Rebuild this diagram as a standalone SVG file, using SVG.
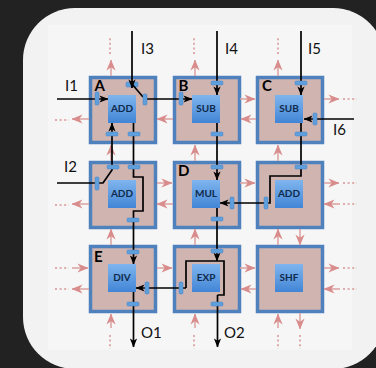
<svg xmlns="http://www.w3.org/2000/svg" width="376" height="368" viewBox="0 0 376 368">
<style>
.cell{fill:#cfb4b0;stroke:#4f81bd;stroke-width:3.5}
.fu{fill:url(#fu)}
.fut{font:bold 10px Lato,"Liberation Sans",sans-serif;fill:#0f2a4a;text-anchor:middle}
.id{font:bold 15px Lato,"Liberation Sans",sans-serif;fill:#000}
.lb{font:15px Lato,"Liberation Sans",sans-serif;fill:#111}
.bar{fill:#5f9fdc;stroke:#4a86c8;stroke-width:.5}
.w{fill:none;stroke:#000;stroke-width:1.7;stroke-linejoin:miter}
.wa{marker-end:url(#wh)}
.r{fill:none;stroke:#dda0a0;stroke-width:1.5;marker-end:url(#rh)}
.d{fill:none;stroke:#e0abab;stroke-width:2;stroke-dasharray:2 2.6}
</style>
<defs>
<linearGradient id="fu" x1="0" y1="0" x2="0" y2="1"><stop offset="0" stop-color="#7fb5ee"/><stop offset="1" stop-color="#4285d6"/></linearGradient>
<marker id="wh" viewBox="0 0 10 8" refX="9.5" refY="4" markerUnits="userSpaceOnUse" markerWidth="9" markerHeight="8" orient="auto"><path d="M0 0L10 4L0 8L2.5 4z" fill="#000"/></marker>
<marker id="rh" viewBox="0 0 12 10" refX="11.5" refY="5" markerUnits="userSpaceOnUse" markerWidth="11" markerHeight="10" orient="auto"><path d="M0 0L12 5L0 10L3.5 5z" fill="#d98c8c"/></marker>
</defs>
<rect width="376" height="368" fill="#222"/>
<rect x="23" y="8" width="362" height="361" rx="52" fill="#f2f2f2"/>
<rect x="48" y="25" width="304" height="325" fill="#f6f6f6"/>

<g id="node-a"><rect class="cell" x="90.5" y="77.5" width="65" height="65"/><rect class="fu" x="108" y="95" width="28" height="28"/><text class="fut" x="122" y="112">ADD</text><text class="id" x="94.5" y="91">A</text></g>
<g id="node-b"><rect class="cell" x="174.5" y="77.5" width="65" height="65"/><rect class="fu" x="192" y="95" width="28" height="28"/><text class="fut" x="206" y="112">SUB</text><text class="id" x="178.500" y="91">B</text></g>
<g id="node-c"><rect class="cell" x="257.500" y="77.5" width="65" height="65"/><rect class="fu" x="275" y="95" width="28" height="28"/><text class="fut" x="289" y="112">SUB</text><text class="id" x="262" y="91">C</text></g>
<g id="node-add2"><rect class="cell" x="90.5" y="162.500" width="65" height="65"/><rect class="fu" x="108" y="180" width="28" height="28"/><text class="fut" x="122" y="197">ADD</text></g>
<g id="node-d"><rect class="cell" x="174.5" y="162.500" width="65" height="65"/><rect class="fu" x="192" y="180" width="28" height="28"/><text class="fut" x="206" y="197">MUL</text><text class="id" x="178" y="176">D</text></g>
<g id="node-add3"><rect class="cell" x="257.500" y="162.500" width="65" height="65"/><rect class="fu" x="275" y="180" width="28" height="28"/><text class="fut" x="289" y="197">ADD</text></g>
<g id="node-e"><rect class="cell" x="90.5" y="246.500" width="65" height="65"/><rect class="fu" x="108" y="264" width="28" height="28"/><text class="fut" x="122" y="281">DIV</text><text class="id" x="94" y="262">E</text></g>
<g id="node-exp"><rect class="cell" x="174.5" y="246.500" width="65" height="65"/><rect class="fu" x="192" y="264" width="28" height="28"/><text class="fut" x="206" y="281">EXP</text></g>
<g id="node-shf"><rect class="cell" x="257.500" y="246.500" width="65" height="65"/><rect class="fu" x="275" y="264" width="28" height="28"/><text class="fut" x="289" y="281">SHF</text></g>

<g id="connectors">
<path class="r" d="M111 76V60"/><path class="r" d="M195 76V60"/><path class="r" d="M278 76V60"/>
<path class="r" d="M111 161V145"/><path class="r" d="M195 161V145"/><path class="r" d="M278 161V145"/>
<path class="r" d="M111 245V229"/><path class="r" d="M195 245V229"/><path class="r" d="M278 245V229"/><path class="r" d="M300 229V245"/>
<path class="r" d="M111 328V314"/><path class="r" d="M195 328V314"/><path class="r" d="M278 328V314"/><path class="r" d="M300 313V329"/>
<path class="r" d="M89 119H72"/><path class="r" d="M173 119H157"/><path class="r" d="M240 99H255"/><path class="r" d="M256 119H241"/><path class="r" d="M324 99H339"/>
<path class="r" d="M89 204H72"/><path class="r" d="M157 183H172"/><path class="r" d="M173 204H157"/><path class="r" d="M240 183H255"/><path class="r" d="M324 183H339"/><path class="r" d="M340 204H324"/>
<path class="r" d="M72 268H88"/><path class="r" d="M89 289H72"/><path class="r" d="M157 268H172"/><path class="r" d="M240 268H255"/><path class="r" d="M256 289H241"/><path class="r" d="M324 268H339"/><path class="r" d="M340 289H324"/>
<path class="d" d="M110 54V38"/><path class="d" d="M194 54V38"/><path class="d" d="M278 54V38"/>
<path class="d" d="M110 335V349"/><path class="d" d="M194 335V349"/><path class="d" d="M278 335V349"/><path class="d" d="M300 335V349"/>
<path class="d" d="M55 120H69"/><path class="d" d="M55 205H69"/><path class="d" d="M55 268H69"/><path class="d" d="M55 289H69"/>
<path class="d" d="M343 99H357"/><path class="d" d="M343 183H357"/><path class="d" d="M343 204H357"/><path class="d" d="M343 268H357"/><path class="d" d="M343 289H357"/>

<rect class="bar" x="126" y="82" width="12" height="5" rx="1"/>
<path class="w wa" d="M57 99H108"/>
<path class="w wa" d="M132 31V88"/>
<path class="w" d="M132 84L143 97"/>
<path class="w wa" d="M146 99H192"/>
<path class="w wa" d="M57 183H103L112 170V123"/>
<path class="w wa" d="M133.500 123V177H143V211H133.500V264"/>
<path class="w wa" d="M217 31V95"/>
<path class="w wa" d="M217 123V180"/>
<path class="w wa" d="M301 31V95"/>
<path class="w wa" d="M354 119H304"/>
<path class="w wa" d="M301 123V176H270V203H220"/>
<path class="w wa" d="M217 208V261"/>
<path class="w" d="M186 288V261H224V295H217.500"/>
<path class="w wa" d="M217.500 295V347"/>
<path class="w wa" d="M186 288H136"/>
<path class="w wa" d="M133.500 292V347"/>

<rect class="bar" x="95" y="92" width="4" height="13" rx="1"/><rect class="bar" x="143" y="94" width="4" height="11" rx="1"/><rect class="bar" x="106" y="132" width="12" height="4" rx="1"/><rect class="bar" x="128" y="132" width="12" height="4" rx="1"/>
<rect class="bar" x="211" y="81" width="12" height="4" rx="1"/><rect class="bar" x="179" y="92" width="4" height="13" rx="1"/><rect class="bar" x="211" y="132" width="12" height="4" rx="1"/>
<rect class="bar" x="295" y="81" width="12" height="4" rx="1"/><rect class="bar" x="313" y="113" width="4" height="12" rx="1"/><rect class="bar" x="295" y="132" width="12" height="4" rx="1"/>
<rect class="bar" x="107" y="165" width="12" height="4" rx="1"/><rect class="bar" x="128" y="165" width="12" height="4" rx="1"/><rect class="bar" x="95" y="177" width="4" height="13" rx="1"/><rect class="bar" x="127" y="218" width="12" height="4" rx="1"/>
<rect class="bar" x="211" y="165" width="12" height="4" rx="1"/><rect class="bar" x="211" y="217" width="12" height="4" rx="1"/><rect class="bar" x="230" y="197" width="4" height="12" rx="1"/>
<rect class="bar" x="295" y="165" width="12" height="4" rx="1"/><rect class="bar" x="264" y="197" width="4" height="12" rx="1"/>
<rect class="bar" x="127" y="250" width="12" height="4" rx="1"/><rect class="bar" x="145" y="282" width="4" height="12" rx="1"/><rect class="bar" x="127" y="302" width="12" height="4" rx="1"/>
<rect class="bar" x="211" y="249" width="12" height="4" rx="1"/><rect class="bar" x="179" y="282" width="4" height="12" rx="1"/><rect class="bar" x="211" y="302" width="12" height="4" rx="1"/>
</g>

<g id="labels">
<text class="lb" x="65" y="91">I1</text><text class="lb" x="64" y="172">I2</text><text class="lb" x="141" y="54">I3</text><text class="lb" x="225" y="54">I4</text><text class="lb" x="308" y="54">I5</text><text class="lb" x="333" y="135">I6</text><text class="lb" x="141" y="338">O1</text><text class="lb" x="224" y="338">O2</text>
</g>
</svg>
